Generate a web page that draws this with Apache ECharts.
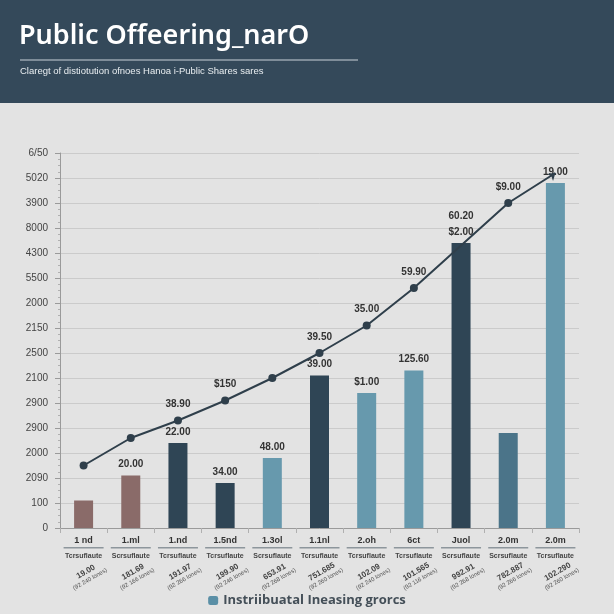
<!DOCTYPE html>
<html>
<head>
<meta charset="utf-8">
<script src="https://cdn.jsdelivr.net/npm/echarts@6/dist/echarts.min.js"></script>
<style>
  html, body { margin: 0; padding: 0; background: #e3e3e3; }
  #main { width: 614px; height: 614px; }
</style>
</head>
<body>
<div id="main"></div>
<script>
const categories = ["1 nd", "1.ml", "1.nd", "1.5nd", "1.3ol", "1.1nl", "2.oh", "6ct", "Juol", "2.0m", "2.0m"];
const subNames = ["Tcrsuflaute", "Scrsuflaute", "Tcrsuflaute", "Tcrsuflaute", "Scrsuflaute", "Tcrsuflaute",
  "Tcrsuflaute", "Tcrsuflaute", "Scrsuflaute", "Scrsuflaute", "Tcrsuflaute"];
const subValues = ["19.00", "181.69", "191.97", "199.90", "653.91", "751.685", "102.09", "101.565", "992.91", "782.887", "102.290"];
const subNotes = ["(92 240 lones)", "(92 166 lones)", "(92 266 lones)", "(92 246 lones)", "(92 268 lones)", "(92 260 lones)",
  "(92 240 lones)", "(92 116 lones)", "(92 268 lones)", "(92 266 lones)", "(92 260 lones)"];
const yTickLabels = ["0", "100", "2090", "2000", "2900", "2900", "2100", "2500", "2150", "2000", "5500", "4300", "8000", "3900", "5020", "6/50"];

const barValues = [1.1, 2.1, 3.4, 1.8, 2.8, 6.1, 5.4, 6.3, 11.4, 3.8, 13.8];
const barLabels = ["", "20.00", "22.00", "34.00", "48.00", "39.00", "$1.00", "125.60", "$2.00", "", "19.00"];
const lineValues = [2.5, 3.6, 4.3, 5.1, 6.0, 7.0, 8.1, 9.6, 11.3, 13.0, 14.2];
const lineLabels = ["", "", "38.90", "$150", "", "39.50", "35.00", "59.90", "60.20", "$9.00", ""];

const barColors = ["#8a6b69", "#8a6b69", "#2f4555", "#2f4555", "#6799ad", "#2f4555", "#6799ad", "#6799ad", "#2f4555", "#4b7489", "#6799ad"];

const mychart = echarts.init(document.getElementById("main"));

mychart.setOption({
  backgroundColor: "#e3e3e3",
  animation: false,
  graphic: [
    { type: "rect", shape: { x: 0, y: 0, width: 614, height: 103 }, style: { fill: "#34495a" }, z: 0 },
    { type: "line", shape: { x1: 20, y1: 60, x2: 358, y2: 60 }, style: { stroke: "#c9d2d8", lineWidth: 1 } },
    {
      type: "text", left: 19, top: 23,
      style: { text: "Public Offeering_narO", fill: "#ffffff", font: "600 27px 'Noto Sans', sans-serif" }
    },
    {
      type: "text", left: 20, top: 66,
      style: { text: "Claregt of distiotution ofnoes Hanoa i-Public Shares sares", fill: "#e8edf0", font: "9.5px 'Liberation Sans', sans-serif" }
    }
  ],
  legend: {
    bottom: 2,
    left: "center",
    data: ["Instriibuatal Ineasing grorcs"],
    itemWidth: 10,
    itemHeight: 9,
    textStyle: { color: "#444f58", fontSize: 13, fontWeight: "bold", fontFamily: "'Open Sans', sans-serif" }
  },
  grid: { left: 60, right: 35, top: 153, bottom: 86 },
  xAxis: [
    {
      type: "category",
      data: categories,
      axisLine: { lineStyle: { color: "#9a9a9a" } },
      axisTick: { show: true, lineStyle: { color: "#b0b0b0" } },
      axisLabel: {
        interval: 0,
        margin: 7,
        formatter: function(value, index) {
          return "{a|" + value + "}\n{u|}\n{b|" + subNames[index] + "}";
        },
        rich: {
          a: { color: "#333", fontSize: 9, fontWeight: "bold", fontFamily: "'Liberation Sans', sans-serif", height: 12, align: "center" },
          u: { width: 40, height: 1.5, backgroundColor: "#8d969c", align: "center" },
          b: { color: "#444", fontSize: 7, fontWeight: "bold", fontFamily: "'Liberation Sans', sans-serif", height: 10, align: "center", padding: [3, 0, 0, 0] }
        }
      }
    },
    {
      type: "category",
      data: categories,
      position: "bottom",
      offset: 32,
      axisLine: { show: false },
      axisTick: { show: false },
      axisLabel: {
        interval: 0,
        rotate: 30,
        align: "center",
        verticalAlign: "top",
        formatter: function(value, index) {
          return "{v|" + subValues[index] + "}\n{n|" + subNotes[index] + "}";
        },
        rich: {
          v: { color: "#444", fontSize: 8, fontWeight: "bold", fontFamily: "'Liberation Sans', sans-serif", lineHeight: 9 },
          n: { color: "#555", fontSize: 6, fontFamily: "'Liberation Sans', sans-serif", lineHeight: 8 }
        }
      }
    }
  ],
  yAxis: {
    type: "value",
    min: 0,
    max: 15,
    interval: 1,
    axisLine: { show: true, lineStyle: { color: "#9a9a9a" } },
    axisTick: { show: true, lineStyle: { color: "#9a9a9a" } },
    minorTick: { show: true, splitNumber: 4, length: 2, lineStyle: { color: "#b0b0b0" } },
    splitLine: { lineStyle: { color: "#cbcbcb" } },
    axisLabel: {
      color: "#444",
      fontSize: 10,
      margin: 12,
      fontFamily: "'Liberation Sans', sans-serif",
      formatter: function(value) {
        return yTickLabels[value] !== undefined ? yTickLabels[value] : "";
      }
    }
  },
  series: [
    {
      name: "Instriibuatal Ineasing grorcs",
      type: "bar",
      barWidth: 19,
      itemStyle: { color: "#5a8fa6" },
      data: barValues.map(function(v, i) {
        return {
          value: v,
          itemStyle: { color: barColors[i] },
          label: {
            show: barLabels[i] !== "",
            position: "top",
            distance: 6,
            formatter: barLabels[i],
            color: "#333",
            fontSize: 10,
            fontWeight: "bold",
            fontFamily: "'Liberation Sans', sans-serif"
          }
        };
      })
    },
    {
      name: "line",
      type: "line",
      z: 5,
      symbol: "circle",
      symbolSize: 8,
      lineStyle: { color: "#2f3f4b", width: 2 },
      itemStyle: { color: "#2f3f4b" },
      data: lineValues.map(function(v, i) {
        const item = {
          value: v,
          label: {
            show: lineLabels[i] !== "",
            position: "top",
            distance: i === 8 ? 24 : 7,
            formatter: lineLabels[i],
            color: "#333",
            fontSize: 10,
            fontWeight: "bold",
            fontFamily: "'Liberation Sans', sans-serif"
          }
        };
        if (i === 8) item.symbolSize = 0;
        if (i === lineValues.length - 1) {
          item.symbol = "arrow";
          item.symbolSize = 7;
          item.symbolRotate = -50;
        }
        return item;
      })
    }
  ]
});
</script>
</body>
</html>
